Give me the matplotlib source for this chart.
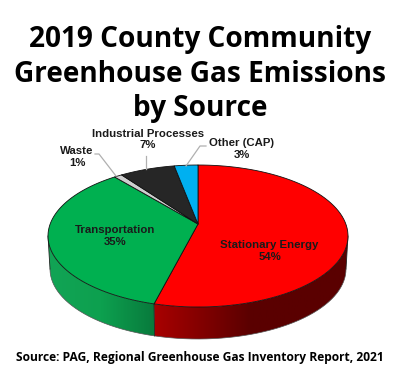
import matplotlib
matplotlib.use("Agg")
import matplotlib.pyplot as plt
import numpy as np
from matplotlib.colors import LinearSegmentedColormap
from matplotlib.patches import Polygon

# Data
categories = ["Stationary Energy", "Transportation", "Waste", "Industrial Processes", "Other (CAP)"]
shares = [54, 35, 1, 7, 3]
share_labels = ["54%", "35%", "1%", "7%", "3%"]
colors = ["#ff0000", "#00b050", "#cfcfcf", "#262626", "#00b0f0"]

W, H = 400, 370
CX, CY, RX, RY = 198, 236, 150, 71
TILT = 0.169  # perspective: pie centre sits above the middle of the ellipse
WALL_X = 148 / 150
WALL_Y = 70 / 71
WALL_DROP = 33 / 71
# rim angles where the ellipse is widest, the wall runs between them
WALL_RIGHT = np.degrees(np.arccos(-TILT))
WALL_LEFT = 360 - WALL_RIGHT


def to_data(px, py):
    return (px - CX) / RX, (CY - py) / RY


def rim(deg):
    # clockwise degrees from 12 o'clock, through the tilt
    t = np.radians(deg)
    u, v = np.sin(t), np.cos(t)
    d = 1 + TILT * v
    return u * np.sqrt(1 - TILT**2) / d, (v + TILT) / d


fig = plt.figure(figsize=(W / 100, H / 100), dpi=100)
ax = fig.add_axes([0, 0, 1, 1])
ax.axis("off")

edges = np.cumsum([0] + shares) / 100 * 360

# Top face
for start, end, col in zip(edges[:-1], edges[1:], colors):
    xs, ys = rim(np.linspace(start, end, 80))
    ax.fill(np.r_[0, xs], np.r_[TILT, ys], facecolor=col, edgecolor="#111111",
            linewidth=0.6, joinstyle="round", zorder=3)

# Side wall
wall_ramps = [
    (WALL_RIGHT, edges[1], ["#a80000", "#5a0000", "#5a0000"]),
    (edges[1], WALL_LEFT, ["#12a455", "#0da04f", "#087a3c"]),
]
for start, end, ramp in wall_ramps:
    xs, ys = rim(np.linspace(start, end, 160))
    verts = np.r_[np.c_[xs, ys], np.c_[xs * WALL_X, ys * WALL_Y - WALL_DROP][::-1]]
    clip = Polygon(verts, transform=ax.transData, facecolor="none", edgecolor="none")
    ax.add_patch(clip)
    cmap = LinearSegmentedColormap.from_list("wall", ramp)
    img = ax.imshow(np.linspace(0, 1, 256)[None, :], cmap=cmap, aspect="auto", zorder=1,
                    extent=[xs.min(), xs.max(), -3, 3], interpolation="bilinear")
    img.set_clip_path(clip)

ax.set_xlim(to_data(0, 0)[0], to_data(W, 0)[0])
ax.set_ylim(to_data(0, H)[1], to_data(0, 0)[1])

# Outline of the wall
xs, ys = rim(np.linspace(WALL_RIGHT, WALL_LEFT, 200))
ax.plot(xs * WALL_X, ys * WALL_Y - WALL_DROP, color="#555555", lw=0.5, zorder=2)
for deg in (WALL_RIGHT, WALL_LEFT, edges[1]):
    x, y = rim(deg)
    ax.plot([x, x * WALL_X], [y, y * WALL_Y - WALL_DROP], color="#222222", lw=0.6, zorder=2)

# Leader lines
leaders = [
    [(95, 154), (99, 154), (116, 176)],
    [(146, 156), (146, 169)],
    [(206, 146), (200, 146), (186, 166)],
]
for pts in leaders:
    xs, ys = zip(*[to_data(*p) for p in pts])
    ax.plot(xs, ys, color="#b0b0b0", lw=0.9, zorder=4)

# Labels
label_font = ["Liberation Sans", "DejaVu Sans"]
label_pos = [(269.5, 251), (115, 236), (77, 157), (148, 139.5), (242, 149)]
for name, pct, (px, py) in zip(categories, share_labels, label_pos):
    fig.text(px / W, 1 - py / H, name + "\n" + pct, family=label_font, weight="bold",
             fontsize=8.2, color="#1a1a1a", ha="center", va="center", linespacing=1.2)

fig.text(200 / W, 1 - 74 / H, "2019 County Community\nGreenhouse Gas Emissions\nby Source",
         family="Open Sans", weight="bold", fontsize=20.2, color="black",
         ha="center", va="center", linespacing=1.23)
fig.text(200 / W, 1 - 357.5 / H, "Source: PAG, Regional Greenhouse Gas Inventory Report, 2021",
         family="Open Sans", weight="bold", fontsize=8.65, color="black", ha="center", va="center")

fig.savefig("out.png", dpi=100)
